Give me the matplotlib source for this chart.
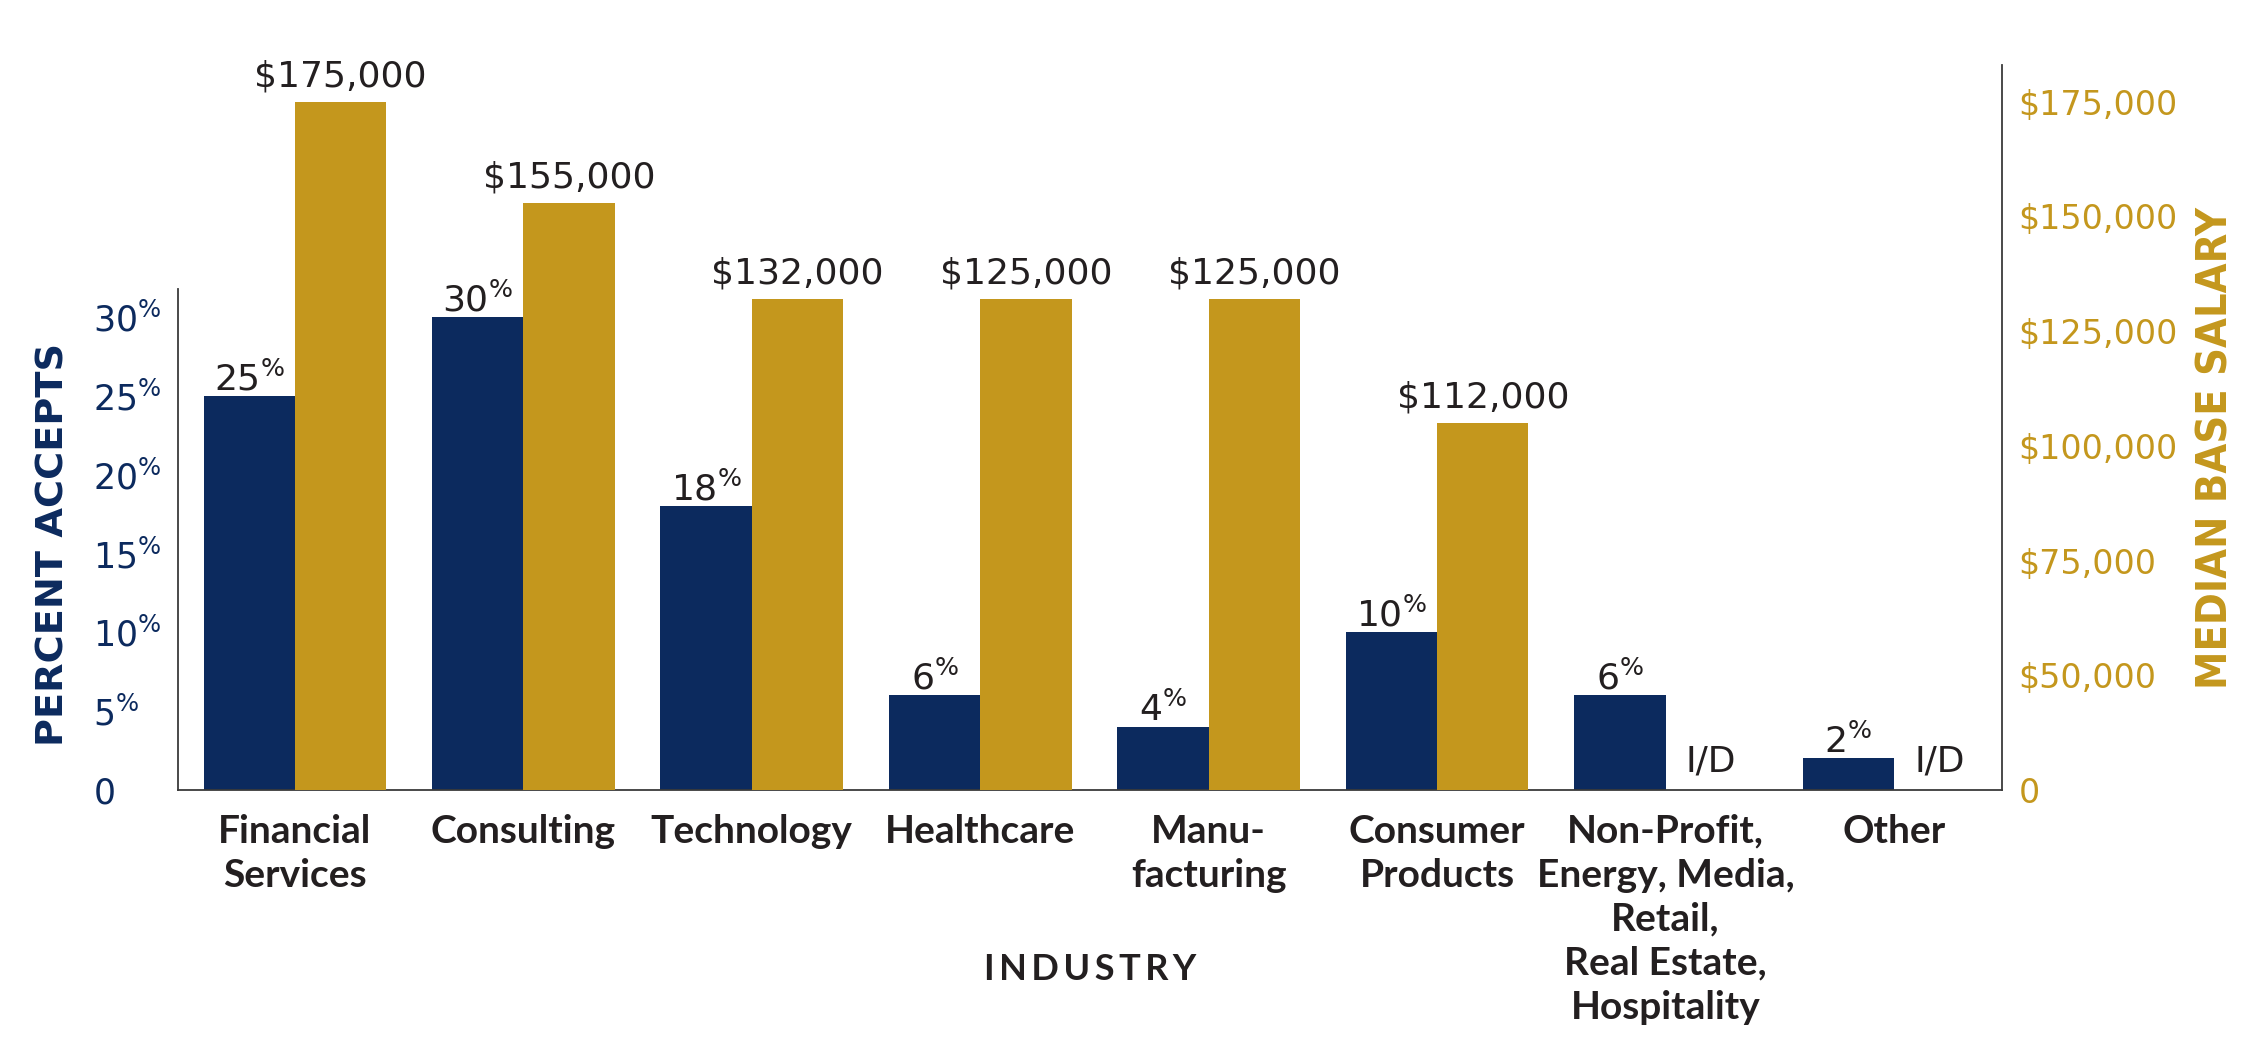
import matplotlib
matplotlib.use("Agg")
import matplotlib.pyplot as plt
import numpy as np

# ---------------- data ----------------
categories = ["Financial\nServices", "Consulting", "Technology", "Healthcare",
              "Manu-\nfacturing", "Consumer\nProducts",
              "Non-Profit,\nEnergy, Media,\nRetail,\nReal Estate,\nHospitality",
              "Other"]
pct_accepts = [25, 30, 18, 6, 4, 10, 6, 2]
# salary bar heights as drawn in the picture (None = insufficient data)
salary_bar = [175000, 153000, 132000, 132000, 132000, 105000, None, None]
salary_label = ["$175,000", "$155,000", "$132,000", "$125,000", "$125,000",
                "$112,000", "I/D", "I/D"]
pct_ticks = [0, 5, 10, 15, 20, 25, 30]
pct_tick_labels = ["0", "5%", "10%", "15%", "20%", "25%", "30%"]
salary_ticks = [0, 50000, 75000, 100000, 125000, 150000, 175000]
salary_tick_labels = ["0", "$50,000", "$75,000", "$100,000", "$125,000",
                      "$150,000", "$175,000"]

NAVY = "#0C2A5E"
GOLD = "#C4971D"
INK = "#231F20"
SPINE = "#3A3A3A"


def sup_pct(s):
    # render '%' as a small superscript
    if s.endswith("%"):
        return s[:-1] + r"$^{\%}$"
    return s


def esc(s):
    return s.replace("$", r"\$")


# piecewise salary axis: 0..50k takes one step, then 25k per step
def fwd(v):
    v = np.asarray(v, dtype=float)
    return np.where(v <= 50000, v / 50000.0, 1 + (v - 50000) / 25000.0)


def inv(u):
    u = np.asarray(u, dtype=float)
    return np.where(u <= 1, u * 50000.0, 50000 + (u - 1) * 25000.0)


plt.rcParams["mathtext.fontset"] = "dejavusans"

W, H = 2248, 1039
fig = plt.figure(figsize=(W / 100, H / 100), dpi=100)
fig.patch.set_facecolor("white")
ax = fig.add_axes([178 / W, 249 / H, 1824 / W, 725 / H])
ax2 = ax.twinx()

x = np.arange(len(categories))
w = 0.4

ax.bar(x - w / 2, pct_accepts, w, color=NAVY, zorder=2)
ax2.set_yscale("function", functions=(fwd, inv))
sx = [xi + w / 2 for xi, s in zip(x, salary_bar) if s is not None]
sv = [s for s in salary_bar if s is not None]
ax2.bar(sx, sv, w, color=GOLD, zorder=2)

ax.set_xlim(-0.512, len(categories) - 1 + 0.473)
ax.set_ylim(0, 46.0)
ax2.set_ylim(0, 183000)

# spines
for s in ["top", "right"]:
    ax.spines[s].set_visible(False)
for s in ["top", "left", "bottom"]:
    ax2.spines[s].set_visible(False)
for sp in [ax.spines["left"], ax.spines["bottom"], ax2.spines["right"]]:
    sp.set_color(SPINE)
    sp.set_linewidth(1.3)
ax.spines["left"].set_bounds(0, 31.8)

# left ticks
ax.set_yticks(pct_ticks)
ax.set_yticklabels([sup_pct(t) for t in pct_tick_labels])
ax.tick_params(axis="y", length=0, pad=61, labelsize=25, labelcolor=NAVY)
for t in ax.get_yticklabels():
    t.set_horizontalalignment("left")

# right ticks
ax2.set_yticks(salary_ticks)
ax2.set_yticklabels([esc(t) for t in salary_tick_labels])
ax2.yaxis.set_minor_locator(matplotlib.ticker.NullLocator())
ax2.tick_params(axis="y", which="both", length=0, pad=12, labelsize=24, labelcolor=GOLD)

# x ticks (categories)
ax.set_xticks(x)
ax.set_xticklabels(categories, fontfamily="Lato", fontweight="bold",
                   fontsize=28, color=INK, linespacing=1.31)
ax.tick_params(axis="x", length=0, pad=17)

# value labels
for xi, p in zip(x, pct_accepts):
    ax.annotate(sup_pct(f"{p}%"), xy=(xi - w / 2, p), xytext=(0, 4),
                textcoords="offset points", ha="center", va="baseline",
                fontsize=26, color=INK)
for xi, s, lab in zip(x, salary_bar, salary_label):
    base = s if s is not None else 0
    off = 11 if s is not None else 13
    ax2.annotate(esc(lab), xy=(xi + w / 2, base), xytext=(0, off),
                 textcoords="offset points", ha="center", va="baseline",
                 fontsize=26, color=INK)

# axis titles
ax.text(-0.0685, 0.338, "PERCENT ACCEPTS", transform=ax.transAxes,
        rotation=90, ha="center", va="center", fontsize=27.5,
        fontweight="bold", color=NAVY)
ax.text(1.1168, 0.472, "MEDIAN BASE SALARY", transform=ax.transAxes,
        rotation=90, ha="center", va="center", fontsize=31,
        fontweight="bold", fontstretch="condensed", color=GOLD)
ax.text(0.5, -0.247, "\u2009".join("INDUSTRY"), transform=ax.transAxes,
        ha="center", va="center", fontsize=26, fontweight="bold",
        family=["Lato", "DejaVu Sans"], color=INK)

fig.savefig("out.png", dpi=100, facecolor="white")
